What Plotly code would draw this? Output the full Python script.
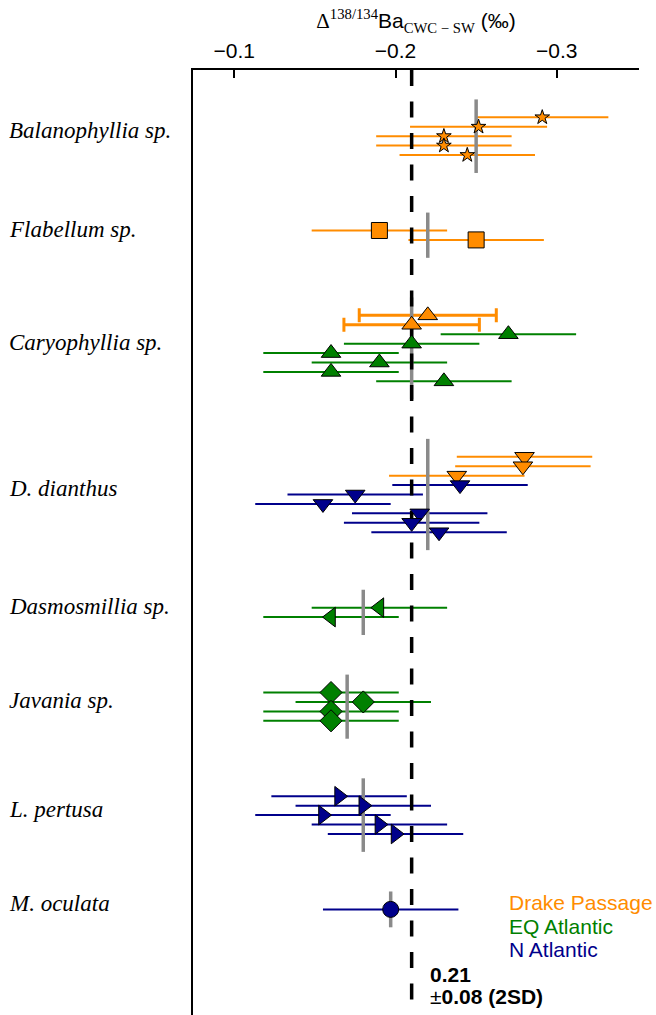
import plotly.graph_objects as go

# ---------------- data ----------------
species = ["Balanophyllia sp.", "Flabellum sp.", "Caryophyllia sp.", "D. dianthus",
           "Dasmosmillia sp.", "Javania sp.", "L. pertusa", "M. oculata"]
species_symbols = ["star", "square", "triangle-up", "triangle-down",
                   "triangle-left", "diamond", "triangle-right", "circle"]
species_means = [-0.250, -0.220, -0.210, -0.220, -0.180, -0.170, -0.180, -0.197]

# measurements per species, listed top to bottom; DP = Drake Passage, EQ = EQ Atlantic, NA = N Atlantic
balanophyllia_vals = [-0.291, -0.2515, -0.230, -0.230, -0.2445]
balanophyllia_reg = ["DP", "DP", "DP", "DP", "DP"]
flabellum_vals = [-0.190, -0.250]
flabellum_reg = ["DP", "DP"]
caryophyllia_vals = [-0.220, -0.210, -0.270, -0.210, -0.160, -0.190, -0.160, -0.230]
caryophyllia_reg = ["DP", "DP", "EQ", "EQ", "EQ", "EQ", "EQ", "EQ"]
dianthus_vals = [-0.280, -0.279, -0.238, -0.240, -0.175, -0.155, -0.215, -0.210, -0.227]
dianthus_reg = ["DP", "DP", "DP", "NA", "NA", "NA", "NA", "NA", "NA"]
dasmosmillia_vals = [-0.190, -0.160]
dasmosmillia_reg = ["EQ", "EQ"]
javania_vals = [-0.160, -0.180, -0.160, -0.160]
javania_reg = ["EQ", "EQ", "EQ", "EQ"]
pertusa_vals = [-0.165, -0.180, -0.155, -0.190, -0.200]
pertusa_reg = ["NA", "NA", "NA", "NA", "NA"]
oculata_vals = [-0.197]
oculata_reg = ["NA"]

# 2SD uncertainty of each measurement
balanophyllia_err = [0.041, 0.0425, 0.042, 0.042, 0.042]
flabellum_err = [0.042, 0.042]
caryophyllia_err = [0.0425, 0.042, 0.042, 0.042, 0.042, 0.042, 0.042, 0.042]
dianthus_err = [0.042, 0.042, 0.042, 0.042, 0.042, 0.042, 0.042, 0.042, 0.042]
dasmosmillia_err = [0.042, 0.042]
javania_err = [0.042, 0.042, 0.042, 0.042]
pertusa_err = [0.042, 0.042, 0.042, 0.042, 0.042]
oculata_err = [0.042]
# capped error bars (Caryophyllia, Drake Passage)
caryophyllia_capped = [True, True, False, False, False, False, False, False]

overall_mean = -0.21
overall_text = "0.21"
overall_sd = "±<b>0.08 (2SD)</b>"

regions = ["DP", "EQ", "NA"]
region_names = ["Drake Passage", "EQ Atlantic", "N Atlantic"]
region_colors = {"DP": "#ff8c00", "EQ": "#008000", "NA": "#00008b"}

x_ticks = [-0.1, -0.2, -0.3]
x_ticktext = ["−0.1", "−0.2", "−0.3"]

groups_vals = [balanophyllia_vals, flabellum_vals, caryophyllia_vals, dianthus_vals,
               dasmosmillia_vals, javania_vals, pertusa_vals, oculata_vals]
groups_reg = [balanophyllia_reg, flabellum_reg, caryophyllia_reg, dianthus_reg,
              dasmosmillia_reg, javania_reg, pertusa_reg, oculata_reg]
groups_err = [balanophyllia_err, flabellum_err, caryophyllia_err, dianthus_err,
              dasmosmillia_err, javania_err, pertusa_err, oculata_err]
groups_cap = [[False] * len(v) for v in groups_vals]
groups_cap[2] = caryophyllia_capped

# ---------------- layout helpers ----------------
W, H = 656, 1015
ML, MR, MT, MB = 193, 17, 70, 0
PW, PH = W - ML - MR, H - MT - MB
GAP = 8          # empty rows between species
HALF_MEAN = 1.9  # extension of the mean bar beyond outermost rows

rows = []
centers = []
off = 0
for vals in groups_vals:
    n = len(vals)
    rows.append([off + k for k in range(n)])
    centers.append(off + (n - 1) / 2)
    off += n - 1 + GAP
last_row = rows[-1][-1]
Y_TOP = -5.02
Y_BOTTOM = last_row + 11.2


def px(xp):
    return (xp - ML) / PW


def py(yp):
    return (H - MB - yp) / PH


fig = go.Figure()

# error bars (bottom layer)
for reg in regions:
    for capped in (False, True):
        xs, ys, es = [], [], []
        for g in range(len(species)):
            for v, r, e, c, y in zip(groups_vals[g], groups_reg[g], groups_err[g], groups_cap[g], rows[g]):
                if r == reg and c == capped:
                    xs.append(v)
                    ys.append(y)
                    es.append(e)
        if not xs:
            continue
        fig.add_trace(go.Scatter(
            x=xs, y=ys, mode="markers", showlegend=False, hoverinfo="skip",
            marker=dict(size=0.1, opacity=0, color=region_colors[reg]),
            error_x=dict(type="data", array=es, visible=True, color=region_colors[reg],
                         thickness=3 if capped else 2, width=7 if capped else 0)))

# species mean bars
mx, my = [], []
for g, vals in enumerate(groups_vals):
    h = (len(vals) - 1) / 2 + HALF_MEAN
    mx += [species_means[g], species_means[g], None]
    my += [centers[g] - h, centers[g] + h, None]
fig.add_trace(go.Scatter(x=mx, y=my, mode="lines", showlegend=False, hoverinfo="skip",
                         line=dict(color="#8a8a8a", width=3.5)))

# overall mean
fig.add_trace(go.Scatter(x=[overall_mean, overall_mean], y=[Y_TOP, Y_BOTTOM], mode="lines",
                         showlegend=False, hoverinfo="skip",
                         line=dict(color="black", width=3.5, dash="16px,15.5px")))

# markers
marker_sizes = {"star": 11, "square": 16, "triangle-up": 17, "triangle-down": 17,
                "triangle-left": 17, "diamond": 17, "triangle-right": 17, "circle": 16}
for g in range(len(species)):
    for reg in regions:
        xs = [v for v, r in zip(groups_vals[g], groups_reg[g]) if r == reg]
        ys = [y for y, r in zip(rows[g], groups_reg[g]) if r == reg]
        if not xs:
            continue
        sym = species_symbols[g]
        fig.add_trace(go.Scatter(
            x=xs, y=ys, mode="markers", showlegend=False, name=species[g],
            marker=dict(symbol=sym, size=marker_sizes[sym], color=region_colors[reg],
                        line=dict(color="black", width=1))))

annotations = []
for g, name in enumerate(species):
    annotations.append(dict(text="<i>" + name + "</i>", xref="paper", yref="y",
                            x=px(7), y=centers[g], yshift=6, xanchor="left", yanchor="middle",
                            showarrow=False,
                            font=dict(family="Liberation Serif", size=23, color="black")))
for i, reg in enumerate(regions):
    annotations.append(dict(text=region_names[i], xref="paper", yref="paper",
                            x=px(507), y=py(902.7 + 23.3 * i), xanchor="left", yanchor="middle",
                            showarrow=False,
                            font=dict(family="Liberation Sans", size=21, color=region_colors[reg])))
annotations.append(dict(text="<b>" + overall_text + "</b>", xref="paper", yref="paper",
                        x=px(428), y=py(974), xanchor="left", yanchor="middle", showarrow=False,
                        font=dict(family="Liberation Sans", size=21, color="black")))
annotations.append(dict(text=overall_sd, xref="paper", yref="paper",
                        x=px(428), y=py(996), xanchor="left", yanchor="middle", showarrow=False,
                        font=dict(family="Liberation Sans", size=21, color="black")))

serif = "font-family:'Liberation Serif'"
title = ("<span style=\"" + serif + "\">Δ</span><sup><span style=\"" + serif + "\">138/134</span></sup>"
         "Ba<sub><span style=\"" + serif + "\">CWC − SW</span></sub> (‰)")

fig.update_layout(
    width=W, height=H, margin=dict(l=ML, r=MR, t=MT, b=MB, autoexpand=False),
    paper_bgcolor="white", plot_bgcolor="white",
    font=dict(family="Liberation Sans", size=21, color="black"),
    annotations=annotations,
    xaxis=dict(side="top", range=[-0.0744, -0.351], tickvals=x_ticks, ticktext=x_ticktext,
               ticks="inside", ticklen=8, tickwidth=2, tickcolor="black",
               showline=True, linewidth=2, linecolor="black", showgrid=False, zeroline=False,
               tickfont=dict(size=21), ticklabelstandoff=2,
               title=dict(text=title, font=dict(size=21), standoff=4)),
    yaxis=dict(range=[Y_BOTTOM, Y_TOP], showticklabels=False, ticks="", showgrid=False,
               zeroline=False, showline=True, linewidth=2, linecolor="black"),
)

fig.write_html("out.html")
